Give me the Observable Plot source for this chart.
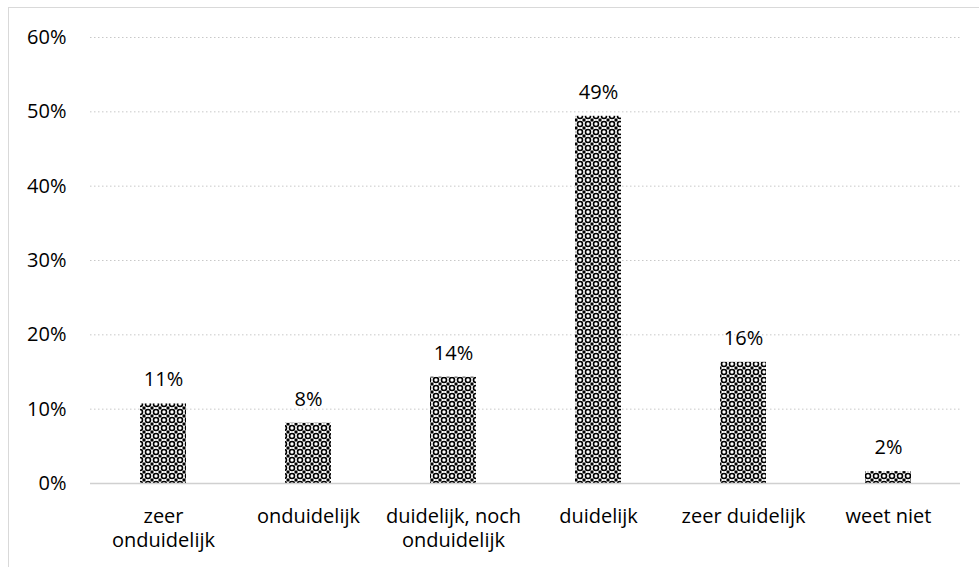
<!DOCTYPE html>
<html>
<head>
<meta charset="utf-8">
<script src="https://cdn.jsdelivr.net/npm/d3@7"></script>
<script src="https://cdn.jsdelivr.net/npm/@observablehq/plot@0.6"></script>
<style>
  html, body { margin: 0; padding: 0; background: #fff; overflow: hidden; }
  #wrap { position: relative; width: 979px; height: 567px; }
  #frame { position: absolute; left: 8px; top: 7px; width: 1200px; height: 800px; border: 1px solid #d9d9d9; box-sizing: border-box; }
  #chart { position: absolute; left: 0; top: 0; }
</style>
</head>
<body>
<div id="wrap"><div id="frame"></div><div id="chart"></div></div>
<script>
const categories = ["zeer onduidelijk", "onduidelijk", "duidelijk, noch onduidelijk", "duidelijk", "zeer duidelijk", "weet niet"];
const tickLabels = ["zeer\nonduidelijk", "onduidelijk", "duidelijk, noch\nonduidelijk", "duidelijk", "zeer duidelijk", "weet niet"];
const values = [10.7, 8.1, 14.3, 49.4, 16.3, 1.6];
const valueLabels = ["11%", "8%", "14%", "49%", "16%", "2%"];
const yTicks = [0, 10, 20, 30, 40, 50, 60];

const data = categories.map((c, i) => ({cat: c, value: values[i], label: valueLabels[i], tick: tickLabels[i]}));
const font = "'Open Sans', sans-serif";

const chart = Plot.plot({
  width: 979,
  height: 567,
  marginTop: 37,
  marginBottom: 84,
  marginLeft: 90,
  marginRight: 19,
  style: {fontFamily: font, fontSize: "20px", color: "#000", background: "transparent"},
  x: {domain: categories, paddingInner: 0.683, paddingOuter: 0.3415, axis: null},
  y: {domain: [0, 60], ticks: yTicks, axis: null},
  marks: [
    Plot.ruleY(yTicks.filter(d => d > 0), {stroke: "#c8c8c8", strokeDasharray: "1.5,2.5", strokeWidth: 1}),
    Plot.barY(data, {x: "cat", y: "value", fill: "url(#chk)"}),
    Plot.ruleY([0], {stroke: "#d0d0d0", strokeWidth: 1.5}),
    Plot.text(yTicks, {y: d => d, text: d => d + "%", frameAnchor: "left", textAnchor: "end", dx: -24, fill: "#000", fontSize: 20}),
    Plot.text(data, {x: "cat", y: "value", text: "label", dy: -24, fill: "#000", fontSize: 20}),
    Plot.text(data, {x: "cat", y: () => 0, text: "tick", lineAnchor: "top", dy: 22, lineHeight: 1.22, fill: "#000", fontSize: 20})
  ]
});

const defs = d3.select(chart).insert("defs", ":first-child");
const pat = defs.append("pattern").attr("id", "chk").attr("patternUnits", "userSpaceOnUse")
  .attr("width", 8).attr("height", 8);
pat.append("rect").attr("width", 8).attr("height", 8).attr("fill", "#fff");
pat.append("circle").attr("cx", 4).attr("cy", 4).attr("r", 2.5).attr("fill", "none").attr("stroke", "#000").attr("stroke-width", 1.6);
[[0, 0], [8, 0], [0, 8], [8, 8]].forEach(([cx, cy]) => {
  pat.append("rect").attr("x", cx - 1.5).attr("y", cy - 1.5).attr("width", 3).attr("height", 3).attr("fill", "#000");
});

document.getElementById("chart").appendChild(chart);
</script>
</body>
</html>
